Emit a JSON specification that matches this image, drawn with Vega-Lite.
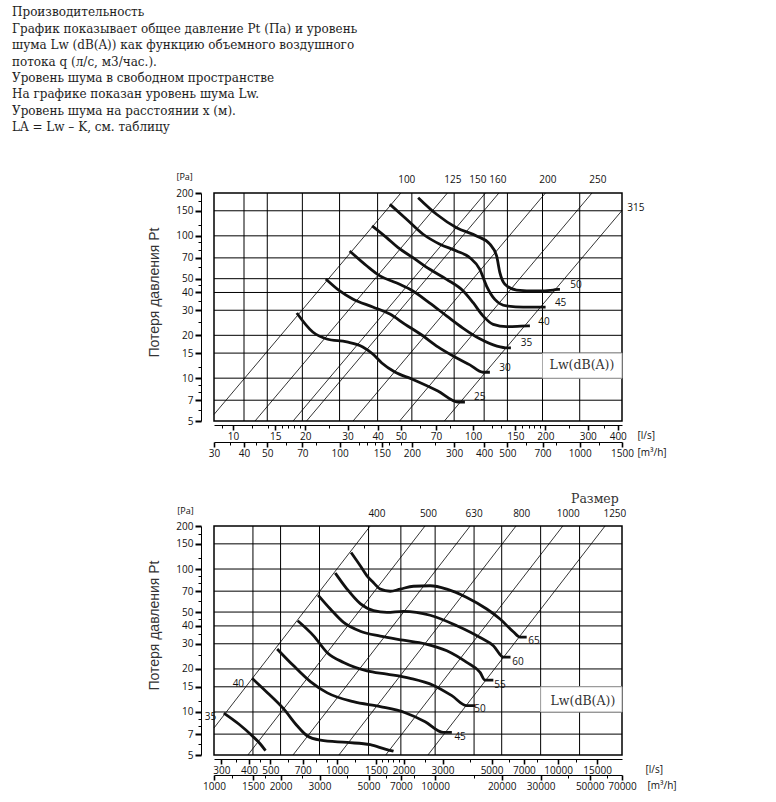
{
  "$schema": "https://vega.github.io/schema/vega-lite/v6.json",
  "background": "white",
  "padding": {"left": 12, "top": 6, "right": 5, "bottom": 5},
  "title": {
    "text": ["Производительность", "График показывает общее давление Pt (Па) и уровень", "шума Lw (dB(A)) как функцию объемного воздушного", "потока q (л/с, м3/час.).", "Уровень шума в свободном пространстве", "На графике показан уровень шума  Lw.", "Уровень шума на расстоянии x (м).", "LA = Lw – K, см. таблицу"],
    "anchor": "start", "frame": "group", "orient": "top", "dx": -202, "offset": 38,
    "font": "DejaVu Serif", "fontSize": 12, "fontWeight": "normal", "lineHeight": 16.4, "color": "#1e1e1e"
  },
  "datasets": {
    "hgrid": [{"Pt": 7}, {"Pt": 10}, {"Pt": 15}, {"Pt": 20}, {"Pt": 30}, {"Pt": 40}, {"Pt": 50}, {"Pt": 70}, {"Pt": 100}, {"Pt": 150}],
    "vgridTop": [{"m3h": 40}, {"m3h": 50}, {"m3h": 70}, {"m3h": 100}, {"m3h": 144}, {"m3h": 200}, {"m3h": 300}, {"m3h": 400}, {"m3h": 500}, {"m3h": 700}, {"m3h": 1000}],
    "vgridBot": [{"m3h": 1500}, {"m3h": 2000}, {"m3h": 3000}, {"m3h": 5000}, {"m3h": 7000}, {"m3h": 10000}, {"m3h": 15000}, {"m3h": 20000}, {"m3h": 30000}, {"m3h": 45000}],
    "diagTop": [
      {"line": "100", "q": 8.333, "Pt": 5.556}, {"line": "100", "q": 50, "Pt": 200},
      {"line": "125", "q": 12.35, "Pt": 5}, {"line": "125", "q": 78.125, "Pt": 200},
      {"line": "150", "q": 17.79, "Pt": 5}, {"line": "150", "q": 112.5, "Pt": 200},
      {"line": "160", "q": 20.24, "Pt": 5}, {"line": "160", "q": 128, "Pt": 200},
      {"line": "200", "q": 31.62, "Pt": 5}, {"line": "200", "q": 200, "Pt": 200},
      {"line": "250", "q": 49.41, "Pt": 5}, {"line": "250", "q": 312.5, "Pt": 200},
      {"line": "315", "q": 75.9, "Pt": 5}, {"line": "315", "q": 416.67, "Pt": 150.7}
    ],
    "curvesTop": [
      {"Lw": "25", "q": 18.43, "Pt": 28.7}, {"Lw": "25", "q": 21.48, "Pt": 21.1}, {"Lw": "25", "q": 24.58, "Pt": 18.85}, {"Lw": "25", "q": 29.77, "Pt": 17.96}, {"Lw": "25", "q": 34.7, "Pt": 16.56}, {"Lw": "25", "q": 38.2, "Pt": 14.78}, {"Lw": "25", "q": 41.65, "Pt": 12.78}, {"Lw": "25", "q": 47.2, "Pt": 11.05}, {"Lw": "25", "q": 55.5, "Pt": 9.87}, {"Lw": "25", "q": 71.3, "Pt": 8.12}, {"Lw": "25", "q": 86.4, "Pt": 6.8}, {"Lw": "25", "q": 92.4, "Pt": 6.8},
      {"Lw": "30", "q": 24.34, "Pt": 49.8}, {"Lw": "30", "q": 27.84, "Pt": 41.0}, {"Lw": "30", "q": 31.5, "Pt": 36.0}, {"Lw": "30", "q": 38.2, "Pt": 31.6}, {"Lw": "30", "q": 45.0, "Pt": 28.2}, {"Lw": "30", "q": 51.9, "Pt": 24.0}, {"Lw": "30", "q": 61.1, "Pt": 20.1}, {"Lw": "30", "q": 71.3, "Pt": 16.6}, {"Lw": "30", "q": 83.9, "Pt": 14.1}, {"Lw": "30", "q": 96.9, "Pt": 12.4}, {"Lw": "30", "q": 109.8, "Pt": 11.0}, {"Lw": "30", "q": 117.4, "Pt": 11.0},
      {"Lw": "35", "q": 30.6, "Pt": 78.3}, {"Lw": "35", "q": 36.1, "Pt": 61.4}, {"Lw": "35", "q": 40.9, "Pt": 52.3}, {"Lw": "35", "q": 48.1, "Pt": 46.6}, {"Lw": "35", "q": 56.1, "Pt": 41.0}, {"Lw": "35", "q": 66.0, "Pt": 33.7}, {"Lw": "35", "q": 77.7, "Pt": 27.3}, {"Lw": "35", "q": 90.6, "Pt": 22.5}, {"Lw": "35", "q": 106.6, "Pt": 18.9}, {"Lw": "35", "q": 125.6, "Pt": 16.8}, {"Lw": "35", "q": 139.5, "Pt": 16.3}, {"Lw": "35", "q": 143.6, "Pt": 16.3},
      {"Lw": "40", "q": 37.95, "Pt": 117.4}, {"Lw": "40", "q": 43.6, "Pt": 97.1}, {"Lw": "40", "q": 48.7, "Pt": 82.6}, {"Lw": "40", "q": 56.2, "Pt": 70.2}, {"Lw": "40", "q": 66.0, "Pt": 58.2}, {"Lw": "40", "q": 77.5, "Pt": 49.5}, {"Lw": "40", "q": 90.9, "Pt": 41.0}, {"Lw": "40", "q": 100, "Pt": 33.9}, {"Lw": "40", "q": 110.1, "Pt": 27.3}, {"Lw": "40", "q": 121.2, "Pt": 23.9}, {"Lw": "40", "q": 137.8, "Pt": 23.0}, {"Lw": "40", "q": 169.5, "Pt": 23.3}, {"Lw": "40", "q": 172.3, "Pt": 23.3},
      {"Lw": "45", "q": 45.0, "Pt": 166.7}, {"Lw": "45", "q": 52.8, "Pt": 130.8}, {"Lw": "45", "q": 61.9, "Pt": 102.6}, {"Lw": "45", "q": 72.7, "Pt": 87.3}, {"Lw": "45", "q": 85.3, "Pt": 78.3}, {"Lw": "45", "q": 96.9, "Pt": 70.2}, {"Lw": "45", "q": 106.6, "Pt": 58.2}, {"Lw": "45", "q": 113.7, "Pt": 44.4}, {"Lw": "45", "q": 123.1, "Pt": 35.8}, {"Lw": "45", "q": 137.8, "Pt": 32.2}, {"Lw": "45", "q": 161.6, "Pt": 31.6}, {"Lw": "45", "q": 195.7, "Pt": 31.6}, {"Lw": "45", "q": 200.3, "Pt": 31.6},
      {"Lw": "50", "q": 59.0, "Pt": 185.5}, {"Lw": "50", "q": 70.4, "Pt": 141.8}, {"Lw": "50", "q": 85.3, "Pt": 114.1}, {"Lw": "50", "q": 103.3, "Pt": 99.8}, {"Lw": "50", "q": 117.4, "Pt": 87.3}, {"Lw": "50", "q": 125.2, "Pt": 72.2}, {"Lw": "50", "q": 129.2, "Pt": 55.1}, {"Lw": "50", "q": 135.6, "Pt": 45.7}, {"Lw": "50", "q": 151.7, "Pt": 41.6}, {"Lw": "50", "q": 183.7, "Pt": 41.0}, {"Lw": "50", "q": 215.4, "Pt": 41.6}, {"Lw": "50", "q": 226.1, "Pt": 42.1}, {"Lw": "50", "q": 229.8, "Pt": 42.1}
    ],
    "labelsTop": [
      {"t": "50", "q": 267.9, "Pt": 44.9}, {"t": "45", "q": 231.3, "Pt": 33.9}, {"t": "40", "q": 197.1, "Pt": 24.8},
      {"t": "35", "q": 166.9, "Pt": 17.7}, {"t": "30", "q": 135.6, "Pt": 11.85}, {"t": "25", "q": 106.6, "Pt": 7.41}
    ],
    "sizesTop": [
      {"t": "100", "q": 52.9, "Pt": 245}, {"t": "125", "q": 82.3, "Pt": 245}, {"t": "150", "q": 104.6, "Pt": 245},
      {"t": "160", "q": 126.7, "Pt": 245}, {"t": "200", "q": 204.8, "Pt": 245}, {"t": "250", "q": 330.8, "Pt": 245},
      {"t": "315", "q": 476, "Pt": 157}
    ],
    "diagBot": [
      {"line": "400", "q": 277.78, "Pt": 7.73}, {"line": "400", "q": 1413, "Pt": 200},
      {"line": "500", "q": 395.3, "Pt": 5}, {"line": "500", "q": 2500, "Pt": 200},
      {"line": "630", "q": 632.5, "Pt": 5}, {"line": "630", "q": 4000, "Pt": 200},
      {"line": "800", "q": 1019.8, "Pt": 5}, {"line": "800", "q": 6450, "Pt": 200},
      {"line": "1000", "q": 1660, "Pt": 5}, {"line": "1000", "q": 10500, "Pt": 200},
      {"line": "1250", "q": 2577, "Pt": 5}, {"line": "1250", "q": 16300, "Pt": 200}
    ],
    "curvesBot": [
      {"Lw": "35", "q": 307.6, "Pt": 9.83}, {"Lw": "35", "q": 359.5, "Pt": 8.24}, {"Lw": "35", "q": 413, "Pt": 6.82}, {"Lw": "35", "q": 450, "Pt": 5.97}, {"Lw": "35", "q": 475, "Pt": 5.36},
      {"Lw": "40", "q": 413, "Pt": 17.2}, {"Lw": "40", "q": 483, "Pt": 13.7}, {"Lw": "40", "q": 574, "Pt": 10.5}, {"Lw": "40", "q": 660, "Pt": 8.01}, {"Lw": "40", "q": 732, "Pt": 6.82}, {"Lw": "40", "q": 841, "Pt": 6.35}, {"Lw": "40", "q": 1110, "Pt": 6.12}, {"Lw": "40", "q": 1414, "Pt": 5.9}, {"Lw": "40", "q": 1652, "Pt": 5.5}, {"Lw": "40", "q": 1801, "Pt": 5.31},
      {"Lw": "45", "q": 536, "Pt": 27.6}, {"Lw": "45", "q": 635, "Pt": 21.1}, {"Lw": "45", "q": 758, "Pt": 16.3}, {"Lw": "45", "q": 904, "Pt": 13.6}, {"Lw": "45", "q": 1185, "Pt": 11.8}, {"Lw": "45", "q": 1569, "Pt": 10.9}, {"Lw": "45", "q": 2034, "Pt": 9.88}, {"Lw": "45", "q": 2504, "Pt": 8.55}, {"Lw": "45", "q": 3019, "Pt": 7.2}, {"Lw": "45", "q": 3306, "Pt": 7.2},
      {"Lw": "50", "q": 664, "Pt": 43.5}, {"Lw": "50", "q": 784, "Pt": 34.1}, {"Lw": "50", "q": 901, "Pt": 26.1}, {"Lw": "50", "q": 1071, "Pt": 22.2}, {"Lw": "50", "q": 1366, "Pt": 19.4}, {"Lw": "50", "q": 1682, "Pt": 18.4}, {"Lw": "50", "q": 2143, "Pt": 17.2}, {"Lw": "50", "q": 2721, "Pt": 15.4}, {"Lw": "50", "q": 3306, "Pt": 13.0}, {"Lw": "50", "q": 3863, "Pt": 11.06}, {"Lw": "50", "q": 4210, "Pt": 11.06},
      {"Lw": "55", "q": 821, "Pt": 65.7}, {"Lw": "55", "q": 933, "Pt": 52.5}, {"Lw": "55", "q": 1071, "Pt": 42.3}, {"Lw": "55", "q": 1274, "Pt": 36.7}, {"Lw": "55", "q": 1569, "Pt": 33.9}, {"Lw": "55", "q": 1992, "Pt": 31.8}, {"Lw": "55", "q": 2504, "Pt": 30.0}, {"Lw": "55", "q": 3138, "Pt": 26.8}, {"Lw": "55", "q": 3863, "Pt": 22.2}, {"Lw": "55", "q": 4436, "Pt": 18.9}, {"Lw": "55", "q": 4672, "Pt": 16.7}, {"Lw": "55", "q": 5093, "Pt": 16.7},
      {"Lw": "60", "q": 982, "Pt": 93.7}, {"Lw": "60", "q": 1110, "Pt": 72.4}, {"Lw": "60", "q": 1274, "Pt": 57.2}, {"Lw": "60", "q": 1463, "Pt": 51.1}, {"Lw": "60", "q": 1682, "Pt": 49.7}, {"Lw": "60", "q": 1998, "Pt": 50.6}, {"Lw": "60", "q": 2638, "Pt": 47.5}, {"Lw": "60", "q": 3482, "Pt": 40.1}, {"Lw": "60", "q": 4436, "Pt": 33.2}, {"Lw": "60", "q": 5093, "Pt": 29.1}, {"Lw": "60", "q": 5651, "Pt": 24.2}, {"Lw": "60", "q": 6091, "Pt": 24.2},
      {"Lw": "65", "q": 1157, "Pt": 130.6}, {"Lw": "65", "q": 1274, "Pt": 105.4}, {"Lw": "65", "q": 1366, "Pt": 89.7}, {"Lw": "65", "q": 1463, "Pt": 80.2}, {"Lw": "65", "q": 1569, "Pt": 72.4}, {"Lw": "65", "q": 1740, "Pt": 69.9}, {"Lw": "65", "q": 1931, "Pt": 72.4}, {"Lw": "65", "q": 2218, "Pt": 75.8}, {"Lw": "65", "q": 2638, "Pt": 76.4}, {"Lw": "65", "q": 3138, "Pt": 72.4}, {"Lw": "65", "q": 3863, "Pt": 63.3}, {"Lw": "65", "q": 4756, "Pt": 52.5}, {"Lw": "65", "q": 5462, "Pt": 44.7}, {"Lw": "65", "q": 6270, "Pt": 36.4}, {"Lw": "65", "q": 6722, "Pt": 33.4}, {"Lw": "65", "q": 7207, "Pt": 33.4}
    ],
    "labelsBot": [
      {"t": "65", "q": 7776, "Pt": 31.5}, {"t": "60", "q": 6584, "Pt": 22.5}, {"t": "55", "q": 5462, "Pt": 15.5},
      {"t": "50", "q": 4436, "Pt": 10.5}, {"t": "45", "q": 3603, "Pt": 6.7}, {"t": "40", "q": 358, "Pt": 15.8}, {"t": "35", "q": 268, "Pt": 9.26}
    ],
    "sizesBot": [
      {"t": "400", "q": 1516, "Pt": 243}, {"t": "500", "q": 2592, "Pt": 243}, {"t": "630", "q": 4168, "Pt": 243},
      {"t": "800", "q": 6843, "Pt": 243}, {"t": "1000", "q": 11110, "Pt": 243}, {"t": "1250", "q": 18050, "Pt": 243}
    ]
  },
  "spacing": 105,
  "bounds": "flush",
  "vconcat": [
    {
      "width": 408, "height": 228,
      "layer": [
        {
          "data": {"name": "vgridTop"},
          "mark": {"type": "rule", "color": "#000", "strokeWidth": 1},
          "encoding": {
            "x": {"field": "m3h", "type": "quantitative", "scale": {"type": "log", "domain": [30, 1500], "nice": false},
              "axis": {"orient": "bottom", "offset": 21, "format": "d",
                "values": [30, 35, 40, 45, 50, 60, 70, 80, 100, 120, 130, 140, 150, 160, 180, 200, 250, 300, 400, 500, 600, 700, 800, 1000, 1200, 1500],
                "labelExpr": "indexof([30,40,50,70,100,150,200,300,400,500,700,1000,1500], datum.value) >= 0 ? datum.label : ''",
                "tickSize": {"condition": {"test": "indexof([30,40,50,70,100,150,200,300,400,500,700,1000,1500], datum.value) >= 0", "value": 5}, "value": 3},
                "tickWidth": {"condition": {"test": "indexof([30,40,50,70,100,150,200,300,400,500,700,1000,1500], datum.value) >= 0", "value": 1.6}, "value": 1},
                "labelPadding": 1, "title": "[m³/h]", "titleX": 423, "titleY": 10, "titleAlign": "left", "titleBaseline": "middle",
                "titleFont": "Open Sans", "titleFontSize": 10, "titleFontWeight": "normal", "titleColor": "#111"}}
          }
        },
        {
          "layer": [
            {
              "data": {"name": "hgrid"},
              "mark": {"type": "rule", "color": "#000", "strokeWidth": 1},
              "encoding": {
                "y": {"field": "Pt", "type": "quantitative", "scale": {"type": "log", "domain": [5, 200], "nice": false},
                  "axis": {"values": [5, 6, 7, 8, 9, 10, 12, 15, 20, 25, 30, 35, 40, 45, 50, 60, 70, 80, 90, 100, 120, 150, 175, 200],
                    "labelExpr": "indexof([5,7,10,15,20,30,40,50,70,100,150,200], datum.value) >= 0 ? datum.label : ''",
                    "format": "d", "offset": 13,
                    "tickSize": {"condition": {"test": "indexof([5,7,10,15,20,30,40,50,70,100,150,200], datum.value) >= 0", "value": 6}, "value": 3},
                    "tickWidth": {"condition": {"test": "indexof([5,7,10,15,20,30,40,50,70,100,150,200], datum.value) >= 0", "value": 2}, "value": 1},
                    "labelPadding": 2, "title": "Потеря давления  Pt", "titleFont": "Liberation Sans", "titleFontSize": 14,
                    "titleFontWeight": "normal", "titleColor": "#333", "titlePadding": 14, "titleY": 99}}
              }
            },
            {
              "data": {"values": [{"q": 194.4, "q2": 416.67, "Pt": 10, "Pt2": 15}]},
              "mark": {"type": "rect", "fill": "white", "stroke": "#aaa", "strokeWidth": 1},
              "encoding": {
                "x": {"field": "q", "type": "quantitative", "scale": {"type": "log", "domain": [8.3333, 416.67], "nice": false},
                  "axis": {"orient": "bottom", "offset": 4, "format": "d",
                    "values": [9, 10, 12, 14, 15, 16, 17, 18, 19, 20, 25, 30, 35, 40, 50, 60, 70, 80, 100, 120, 130, 150, 160, 170, 180, 190, 200, 250, 300, 350, 400],
                    "labelExpr": "indexof([10,15,20,30,40,50,70,100,150,200,300,400], datum.value) >= 0 ? datum.label : ''",
                    "tickSize": {"condition": {"test": "indexof([10,15,20,30,40,50,70,100,150,200,300,400], datum.value) >= 0", "value": 5}, "value": 3},
                    "tickWidth": {"condition": {"test": "indexof([10,15,20,30,40,50,70,100,150,200,300,400], datum.value) >= 0", "value": 1.6}, "value": 1},
                    "labelPadding": 1, "title": "[l/s]", "titleX": 423, "titleY": 10, "titleAlign": "left", "titleBaseline": "middle",
                    "titleFont": "Open Sans", "titleFontSize": 10, "titleFontWeight": "normal", "titleColor": "#111"}},
                "x2": {"field": "q2"},
                "y": {"field": "Pt", "type": "quantitative", "scale": {"type": "log", "domain": [5, 200], "nice": false}},
                "y2": {"field": "Pt2"}
              }
            },
            {
              "data": {"name": "diagTop"},
              "mark": {"type": "line", "color": "#000", "strokeWidth": 0.8},
              "encoding": {
                "x": {"field": "q", "type": "quantitative", "scale": {"type": "log", "domain": [8.3333, 416.67], "nice": false}},
                "y": {"field": "Pt", "type": "quantitative", "scale": {"type": "log", "domain": [5, 200], "nice": false}},
                "detail": {"field": "line"}
              }
            },
            {
              "data": {"name": "curvesTop"},
              "mark": {"type": "line", "color": "#111", "strokeWidth": 2.8, "interpolate": "monotone"},
              "encoding": {
                "x": {"field": "q", "type": "quantitative", "scale": {"type": "log", "domain": [8.3333, 416.67], "nice": false}},
                "y": {"field": "Pt", "type": "quantitative", "scale": {"type": "log", "domain": [5, 200], "nice": false}},
                "detail": {"field": "Lw"}
              }
            },
            {
              "data": {"name": "labelsTop"},
              "mark": {"type": "text", "font": "Open Sans", "fontSize": 10, "color": "#111"},
              "encoding": {
                "x": {"field": "q", "type": "quantitative", "scale": {"type": "log", "domain": [8.3333, 416.67], "nice": false}},
                "y": {"field": "Pt", "type": "quantitative", "scale": {"type": "log", "domain": [5, 200], "nice": false}},
                "text": {"field": "t"}
              }
            },
            {
              "data": {"name": "sizesTop"},
              "mark": {"type": "text", "font": "Open Sans", "fontSize": 10, "color": "#111"},
              "encoding": {
                "x": {"field": "q", "type": "quantitative", "scale": {"type": "log", "domain": [8.3333, 416.67], "nice": false}},
                "y": {"field": "Pt", "type": "quantitative", "scale": {"type": "log", "domain": [5, 200], "nice": false}},
                "text": {"field": "t"}
              }
            },
            {
              "data": {"values": [{"t": "[Pa]", "q": 6.29, "Pt": 259}]},
              "mark": {"type": "text", "font": "Open Sans", "fontSize": 9, "color": "#111"},
              "encoding": {
                "x": {"field": "q", "type": "quantitative", "scale": {"type": "log", "domain": [8.3333, 416.67], "nice": false}},
                "y": {"field": "Pt", "type": "quantitative", "scale": {"type": "log", "domain": [5, 200], "nice": false}},
                "text": {"field": "t"}
              }
            },
            {
              "data": {"values": [{"t": "Lw(dB(A))", "q": 283.8, "Pt": 12.38}]},
              "mark": {"type": "text", "font": "DejaVu Serif", "fontSize": 12.5, "color": "#333"},
              "encoding": {
                "x": {"field": "q", "type": "quantitative", "scale": {"type": "log", "domain": [8.3333, 416.67], "nice": false}},
                "y": {"field": "Pt", "type": "quantitative", "scale": {"type": "log", "domain": [5, 200], "nice": false}},
                "text": {"field": "t"}
              }
            }
          ]
        }
      ],
      "resolve": {"scale": {"x": "independent"}, "axis": {"x": "independent"}}
    },
    {
      "width": 408, "height": 229,
      "layer": [
        {
          "data": {"name": "vgridBot"},
          "mark": {"type": "rule", "color": "#000", "strokeWidth": 1},
          "encoding": {
            "x": {"field": "m3h", "type": "quantitative", "scale": {"type": "log", "domain": [1000, 70000], "nice": false},
              "axis": {"orient": "bottom", "offset": 20, "format": "d",
                "values": [1000, 1200, 1500, 1700, 2000, 2500, 3000, 4000, 5000, 6000, 7000, 8000, 10000, 15000, 20000, 30000, 40000, 50000, 60000, 70000],
                "labelExpr": "indexof([1000,1500,2000,3000,5000,7000,10000,20000,30000,50000,70000], datum.value) >= 0 ? datum.label : ''",
                "tickSize": {"condition": {"test": "indexof([1000,1500,2000,3000,5000,7000,10000,20000,30000,50000,70000], datum.value) >= 0", "value": 5}, "value": 3},
                "tickWidth": {"condition": {"test": "indexof([1000,1500,2000,3000,5000,7000,10000,20000,30000,50000,70000], datum.value) >= 0", "value": 1.6}, "value": 1},
                "labelPadding": 1, "title": "[m³/h]", "titleX": 433, "titleY": 10, "titleAlign": "left", "titleBaseline": "middle",
                "titleFont": "Open Sans", "titleFontSize": 10, "titleFontWeight": "normal", "titleColor": "#111"}}
          }
        },
        {
          "layer": [
            {
              "data": {"name": "hgrid"},
              "mark": {"type": "rule", "color": "#000", "strokeWidth": 1},
              "encoding": {
                "y": {"field": "Pt", "type": "quantitative", "scale": {"type": "log", "domain": [5, 200], "nice": false},
                  "axis": {"values": [5, 6, 7, 8, 9, 10, 12, 15, 20, 25, 30, 35, 40, 45, 50, 60, 70, 80, 90, 100, 120, 150, 175, 200],
                    "labelExpr": "indexof([5,7,10,15,20,30,40,50,70,100,150,200], datum.value) >= 0 ? datum.label : ''",
                    "format": "d", "offset": 13,
                    "tickSize": {"condition": {"test": "indexof([5,7,10,15,20,30,40,50,70,100,150,200], datum.value) >= 0", "value": 6}, "value": 3},
                    "tickWidth": {"condition": {"test": "indexof([5,7,10,15,20,30,40,50,70,100,150,200], datum.value) >= 0", "value": 2}, "value": 1},
                    "labelPadding": 2, "title": "Потеря давления Pt", "titleFont": "Liberation Sans", "titleFontSize": 14,
                    "titleFontWeight": "normal", "titleColor": "#333", "titlePadding": 14, "titleY": 99}}
              }
            },
            {
              "data": {"values": [{"q": 8333, "q2": 19444.4, "Pt": 10, "Pt2": 15}]},
              "mark": {"type": "rect", "fill": "white", "stroke": "#aaa", "strokeWidth": 1},
              "encoding": {
                "x": {"field": "q", "type": "quantitative", "scale": {"type": "log", "domain": [277.78, 19444.4], "nice": false},
                  "axis": {"orient": "bottom", "offset": 4, "format": "d",
                    "values": [300, 350, 400, 450, 500, 600, 700, 800, 900, 1000, 1200, 1500, 1600, 1700, 1800, 1900, 2000, 2500, 3000, 4000, 5000, 6000, 7000, 8000, 10000, 12000, 15000],
                    "labelExpr": "indexof([300,400,500,700,1000,1500,2000,3000,5000,7000,10000,15000], datum.value) >= 0 ? datum.label : ''",
                    "tickSize": {"condition": {"test": "indexof([300,400,500,700,1000,1500,2000,3000,5000,7000,10000,15000], datum.value) >= 0", "value": 5}, "value": 3},
                    "tickWidth": {"condition": {"test": "indexof([300,400,500,700,1000,1500,2000,3000,5000,7000,10000,15000], datum.value) >= 0", "value": 1.6}, "value": 1},
                    "labelPadding": 1, "title": "[l/s]", "titleX": 431, "titleY": 10, "titleAlign": "left", "titleBaseline": "middle",
                    "titleFont": "Open Sans", "titleFontSize": 10, "titleFontWeight": "normal", "titleColor": "#111"}},
                "x2": {"field": "q2"},
                "y": {"field": "Pt", "type": "quantitative", "scale": {"type": "log", "domain": [5, 200], "nice": false}},
                "y2": {"field": "Pt2"}
              }
            },
            {
              "data": {"name": "diagBot"},
              "mark": {"type": "line", "color": "#000", "strokeWidth": 0.8},
              "encoding": {
                "x": {"field": "q", "type": "quantitative", "scale": {"type": "log", "domain": [277.78, 19444.4], "nice": false}},
                "y": {"field": "Pt", "type": "quantitative", "scale": {"type": "log", "domain": [5, 200], "nice": false}},
                "detail": {"field": "line"}
              }
            },
            {
              "data": {"name": "curvesBot"},
              "mark": {"type": "line", "color": "#111", "strokeWidth": 2.8, "interpolate": "monotone"},
              "encoding": {
                "x": {"field": "q", "type": "quantitative", "scale": {"type": "log", "domain": [277.78, 19444.4], "nice": false}},
                "y": {"field": "Pt", "type": "quantitative", "scale": {"type": "log", "domain": [5, 200], "nice": false}},
                "detail": {"field": "Lw"}
              }
            },
            {
              "data": {"name": "labelsBot"},
              "mark": {"type": "text", "font": "Open Sans", "fontSize": 10, "color": "#111"},
              "encoding": {
                "x": {"field": "q", "type": "quantitative", "scale": {"type": "log", "domain": [277.78, 19444.4], "nice": false}},
                "y": {"field": "Pt", "type": "quantitative", "scale": {"type": "log", "domain": [5, 200], "nice": false}},
                "text": {"field": "t"}
              }
            },
            {
              "data": {"name": "sizesBot"},
              "mark": {"type": "text", "font": "Open Sans", "fontSize": 10, "color": "#111"},
              "encoding": {
                "x": {"field": "q", "type": "quantitative", "scale": {"type": "log", "domain": [277.78, 19444.4], "nice": false}},
                "y": {"field": "Pt", "type": "quantitative", "scale": {"type": "log", "domain": [5, 200], "nice": false}},
                "text": {"field": "t"}
              }
            },
            {
              "data": {"values": [{"t": "[Pa]", "q": 206.5, "Pt": 254.6}]},
              "mark": {"type": "text", "font": "Open Sans", "fontSize": 9, "color": "#111"},
              "encoding": {
                "x": {"field": "q", "type": "quantitative", "scale": {"type": "log", "domain": [277.78, 19444.4], "nice": false}},
                "y": {"field": "Pt", "type": "quantitative", "scale": {"type": "log", "domain": [5, 200], "nice": false}},
                "text": {"field": "t"}
              }
            },
            {
              "data": {"values": [{"t": "Lw(dB(A))", "q": 12940, "Pt": 11.98}, {"t": "Размер", "q": 14660, "Pt": 310}]},
              "mark": {"type": "text", "font": "DejaVu Serif", "fontSize": 12.5, "color": "#333"},
              "encoding": {
                "x": {"field": "q", "type": "quantitative", "scale": {"type": "log", "domain": [277.78, 19444.4], "nice": false}},
                "y": {"field": "Pt", "type": "quantitative", "scale": {"type": "log", "domain": [5, 200], "nice": false}},
                "text": {"field": "t"}
              }
            }
          ]
        }
      ],
      "resolve": {"scale": {"x": "independent"}, "axis": {"x": "independent"}}
    }
  ],
  "config": {
    "view": {"stroke": "#000", "strokeWidth": 1.5},
    "axis": {"domainColor": "#000", "tickColor": "#000", "labelColor": "#111", "labelFont": "Open Sans", "labelFontSize": 10,
      "grid": false, "labelOverlap": false, "labelBound": false, "labelFlush": false, "domainWidth": 1}
  }
}
